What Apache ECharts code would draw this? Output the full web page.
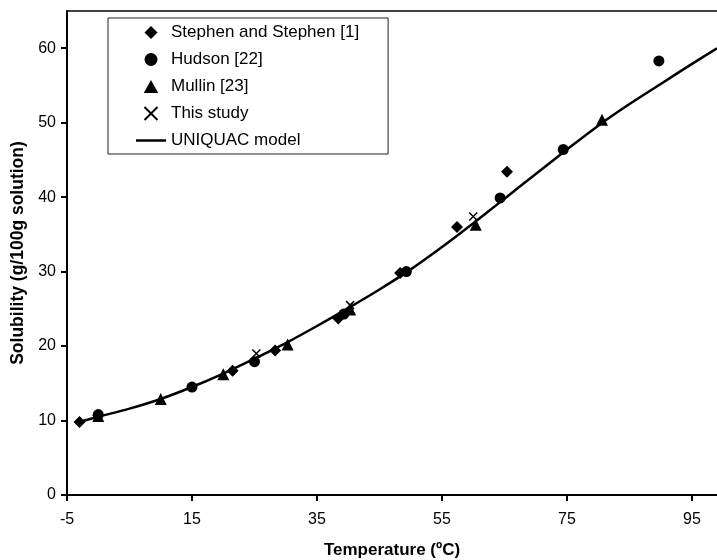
<!DOCTYPE html>
<html>
<head>
<meta charset="utf-8">
<script src="https://cdn.jsdelivr.net/npm/echarts@6/dist/echarts.min.js"></script>
<style>
  html, body { margin: 0; padding: 0; background: #fff; }
  #chart { width: 717px; height: 560px; }
</style>
</head>
<body>
<div id="chart"></div>
<script>
// data: [temperature, solubility]
var stephenData = [[-3, 9.8], [0, 10.7], [21.5, 16.7], [28.3, 19.4], [38.4, 23.7], [48.3, 29.8], [57.4, 36.0], [65.4, 43.4]];
var hudsonData = [[0, 10.8], [15, 14.5], [25, 17.9], [39.3, 24.3], [49.3, 30.0], [64.3, 39.9], [74.4, 46.4], [89.7, 58.3]];
var mullinData = [[0, 10.6], [10, 12.9], [20, 16.2], [30.3, 20.2], [40.3, 24.9], [60.4, 36.3], [80.6, 50.4]];
var studyData = [[25.3, 19.0], [40.3, 25.5], [60, 37.4]];
var modelX = [-3, 0, 5, 10, 15, 20, 25, 30, 35, 40, 45, 50, 55, 60, 65, 70, 75, 80, 85, 90, 95, 99];
var modelY = [9.8, 10.5, 11.6, 12.9, 14.5, 16.3, 18.3, 20.4, 22.7, 25.1, 27.6, 30.3, 33.3, 36.5, 39.8, 43.1, 46.4, 49.6, 52.5, 55.2, 57.9, 60.0];
var xTicks = [-5, 15, 35, 55, 75, 95];
var yTicks = [0, 10, 20, 30, 40, 50, 60];

var font = 'Liberation Sans, Arial, sans-serif';
var chart = echarts.init(document.getElementById('chart'));

var option = {
  animation: false,
  textStyle: { fontFamily: font },
  grid: { left: 67, right: 0, top: 11, bottom: 65, outerBoundsMode: 'none', containLabel: false },
  legend: {
    orient: 'vertical',
    left: 108, top: 18,
    padding: [6, 29, 5, 28],
    itemWidth: 30, itemHeight: 13, itemGap: 10,
    symbolKeepAspect: true,
    borderColor: '#222', borderWidth: 1,
    textStyle: { fontSize: 17, color: '#000', fontFamily: font },
    data: [
      { name: 'Stephen and Stephen [1]', icon: 'path://M5,0L10,5L5,10L0,5Z' },
      { name: 'Hudson [22]', icon: 'path://M5,0A5,5 0 1 1 5,10A5,5 0 1 1 5,0Z' },
      { name: 'Mullin [23]', icon: 'path://M5,0L10,9L0,9Z' },
      { name: 'This study', icon: 'path://M0,0L10,10M10,0L0,10' },
      { name: 'UNIQUAC model', icon: 'path://M0,0H30V2.5H0Z' }
    ]
  },
  xAxis: [{
    type: 'value', min: -5, max: 99,
    name: 'Temperature (ºC)', nameLocation: 'middle', nameGap: 47,
    nameTextStyle: { fontSize: 17, fontWeight: 'bold', color: '#000', fontFamily: font },
    axisLine: { show: true, onZero: false, lineStyle: { color: '#000', width: 2 } },
    axisTick: { show: true, length: 6, lineStyle: { color: '#000', width: 2 }, customValues: xTicks },
    axisLabel: { fontSize: 16, color: '#000', margin: 17, customValues: xTicks },
    splitLine: { show: false }
  }, {
    type: 'value', min: -5, max: 99, position: 'top',
    axisLine: { show: true, onZero: false, lineStyle: { color: '#000', width: 1.5 } },
    axisTick: { show: false }, axisLabel: { show: false }, splitLine: { show: false }
  }],
  yAxis: {
    type: 'value', min: 0, max: 65,
    name: 'Solubility (g/100g solution)', nameLocation: 'middle', nameGap: 40,
    nameTextStyle: { fontSize: 17.5, fontWeight: 'bold', color: '#000', fontFamily: font },
    axisLine: { show: true, onZero: false, lineStyle: { color: '#000', width: 2 } },
    axisTick: { show: true, length: 6, lineStyle: { color: '#000', width: 2 }, customValues: yTicks },
    axisLabel: { fontSize: 16, color: '#000', margin: 11, customValues: yTicks },
    splitLine: { show: false }
  },
  series: [{
    name: 'UNIQUAC model', type: 'line', z: 1,
    data: modelX.map(function (x, i) { return [x, modelY[i]]; }),
    smooth: 0.3, symbol: 'none',
    lineStyle: { color: '#000', width: 2.5 }, itemStyle: { color: '#000' }
  }, {
    name: 'Stephen and Stephen [1]', type: 'scatter', z: 3,
    data: stephenData, symbol: 'diamond', symbolSize: 12,
    itemStyle: { color: '#000', opacity: 1 }
  }, {
    name: 'Hudson [22]', type: 'scatter', z: 3,
    data: hudsonData, symbol: 'circle', symbolSize: 11,
    itemStyle: { color: '#000', opacity: 1 }
  }, {
    name: 'Mullin [23]', type: 'scatter', z: 3,
    data: mullinData, symbol: 'triangle', symbolSize: 12,
    itemStyle: { color: '#000', opacity: 1 }
  }, {
    name: 'This study', type: 'scatter', z: 4,
    data: studyData, symbol: 'path://M0,0L10,10M10,0L0,10', symbolSize: 8,
    itemStyle: { color: 'rgba(0,0,0,0)', borderColor: '#000', borderWidth: 1.5, opacity: 1 }
  }]
};
chart.setOption(option);
</script>
</body>
</html>
